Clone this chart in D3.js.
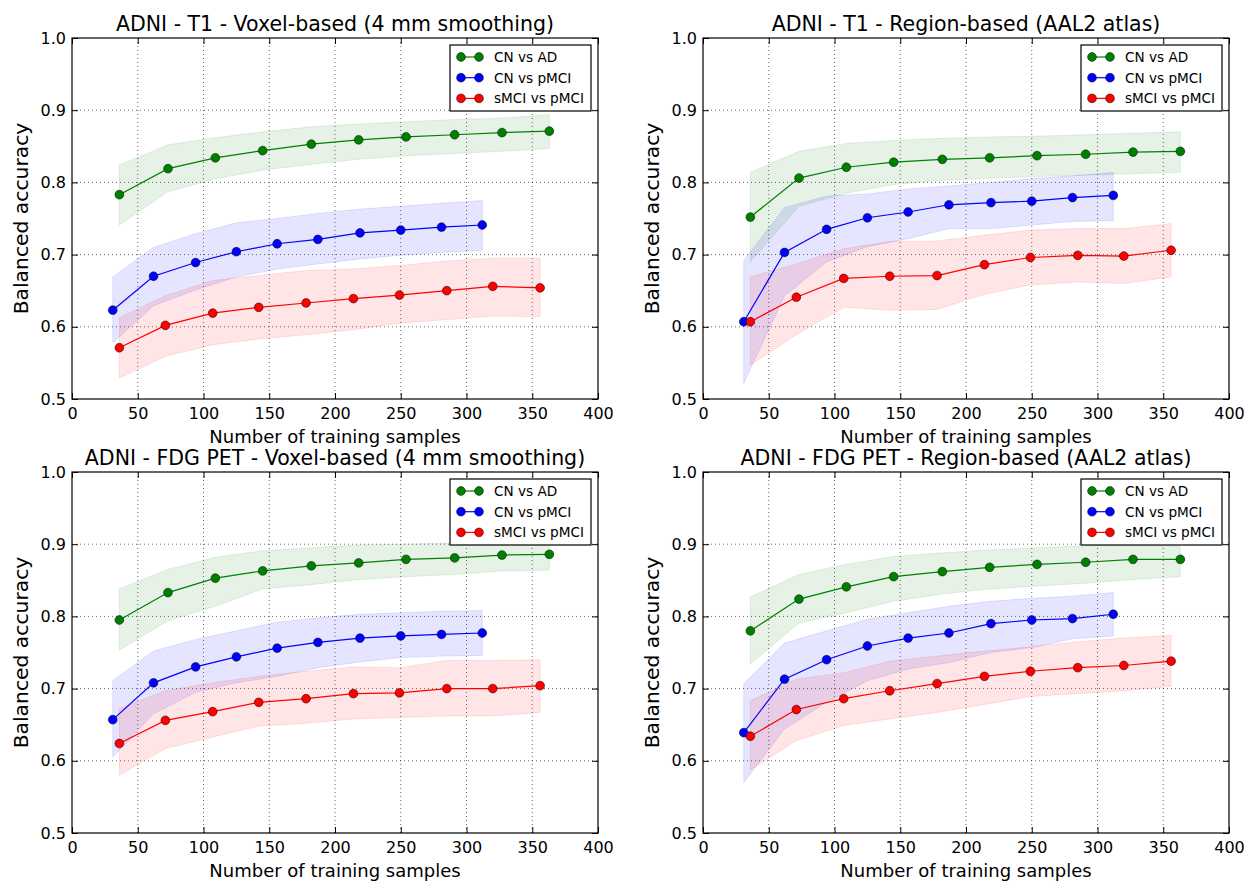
<!DOCTYPE html>
<html><head><meta charset="utf-8">
<script src="https://cdn.jsdelivr.net/npm/d3@7"></script>
<style>
body{margin:0;background:#fff;}
svg{display:block;font-family:"DejaVu Sans",sans-serif;}
</style></head>
<body><svg id="chart" width="1244" height="882"></svg>
<script>
// ---- data ----
const xTicks = [0,50,100,150,200,250,300,350,400];
const yTicks = [0.5,0.6,0.7,0.8,0.9,1.0];
const seriesNames = ["CN vs AD","CN vs pMCI","sMCI vs pMCI"];
const seriesColors = ["#008000","#0000ff","#ff0000"];
const panelTitles = ["ADNI - T1 - Voxel-based (4 mm smoothing)","ADNI - T1 - Region-based (AAL2 atlas)","ADNI - FDG PET - Voxel-based (4 mm smoothing)","ADNI - FDG PET - Region-based (AAL2 atlas)"];

const xCNvsAD   = [36,73,109,145,182,218,254,291,327,363];
const xCNvspMCI = [31,62,94,125,156,187,219,250,281,312];
const xsMCIvspMCI = [36,71,107,142,178,214,249,285,320,356];

// Panel 1: T1 voxel
const t1VoxAD     = [0.783,0.819,0.834,0.844,0.853,0.859,0.863,0.866,0.869,0.871];
const t1VoxADHi   = [0.824,0.852,0.862,0.870,0.877,0.881,0.884,0.887,0.889,0.894];
const t1VoxADLo   = [0.741,0.787,0.805,0.817,0.825,0.832,0.837,0.840,0.843,0.847];
const t1VoxCN     = [0.623,0.670,0.689,0.704,0.715,0.721,0.730,0.734,0.738,0.741];
const t1VoxCNHi   = [0.669,0.710,0.729,0.744,0.750,0.757,0.763,0.767,0.771,0.775];
const t1VoxCNLo   = [0.578,0.629,0.651,0.669,0.680,0.687,0.694,0.699,0.703,0.706];
const t1VoxMCI    = [0.571,0.602,0.619,0.627,0.633,0.639,0.644,0.650,0.656,0.654];
const t1VoxMCIHi  = [0.613,0.643,0.664,0.671,0.678,0.680,0.685,0.691,0.695,0.695];
const t1VoxMCILo  = [0.529,0.559,0.575,0.583,0.589,0.596,0.605,0.610,0.615,0.614];

// Panel 2: T1 region
const t1RegAD     = [0.752,0.806,0.821,0.828,0.832,0.834,0.837,0.839,0.842,0.843];
const t1RegADHi   = [0.814,0.843,0.854,0.858,0.861,0.863,0.864,0.866,0.868,0.870];
const t1RegADLo   = [0.690,0.767,0.785,0.797,0.803,0.806,0.808,0.810,0.812,0.814];
const t1RegCN     = [0.607,0.703,0.735,0.751,0.759,0.769,0.772,0.774,0.779,0.782];
const t1RegCNHi   = [0.692,0.765,0.781,0.784,0.791,0.795,0.800,0.805,0.809,0.814];
const t1RegCNLo   = [0.522,0.643,0.690,0.711,0.722,0.736,0.736,0.741,0.746,0.747];
const t1RegMCI    = [0.607,0.641,0.667,0.670,0.671,0.686,0.696,0.699,0.698,0.706];
const t1RegMCIHi  = [0.669,0.687,0.708,0.718,0.719,0.727,0.734,0.736,0.736,0.743];
const t1RegMCILo  = [0.547,0.589,0.627,0.623,0.624,0.645,0.658,0.662,0.660,0.669];

// Panel 3: FDG PET voxel
const petVoxAD    = [0.795,0.833,0.853,0.863,0.870,0.874,0.879,0.881,0.885,0.886];
const petVoxADHi  = [0.838,0.865,0.882,0.891,0.895,0.899,0.900,0.902,0.904,0.902];
const petVoxADLo  = [0.753,0.794,0.814,0.838,0.844,0.851,0.855,0.858,0.863,0.864];
const petVoxCN    = [0.657,0.708,0.730,0.744,0.756,0.764,0.770,0.773,0.775,0.777];
const petVoxCNHi  = [0.711,0.752,0.768,0.780,0.792,0.798,0.803,0.805,0.807,0.808];
const petVoxCNLo  = [0.605,0.665,0.695,0.708,0.717,0.729,0.737,0.743,0.745,0.746];
const petVoxMCI   = [0.624,0.656,0.668,0.681,0.686,0.693,0.694,0.700,0.700,0.704];
const petVoxMCIHi = [0.672,0.697,0.708,0.717,0.724,0.730,0.729,0.739,0.739,0.740];
const petVoxMCILo = [0.580,0.617,0.633,0.648,0.652,0.658,0.660,0.662,0.662,0.667];

// Panel 4: FDG PET region
const petRegAD    = [0.780,0.824,0.841,0.855,0.862,0.868,0.872,0.875,0.879,0.879];
const petRegADHi  = [0.827,0.858,0.872,0.883,0.888,0.892,0.895,0.898,0.899,0.897];
const petRegADLo  = [0.734,0.791,0.805,0.821,0.831,0.838,0.842,0.846,0.851,0.855];
const petRegCN    = [0.639,0.713,0.740,0.759,0.770,0.777,0.790,0.795,0.797,0.803];
const petRegCNHi  = [0.707,0.763,0.780,0.796,0.805,0.814,0.821,0.825,0.828,0.833];
const petRegCNLo  = [0.570,0.644,0.681,0.711,0.727,0.736,0.750,0.757,0.769,0.773];
const petRegMCI   = [0.634,0.671,0.686,0.697,0.707,0.717,0.724,0.729,0.732,0.738];
const petRegMCIHi = [0.683,0.713,0.722,0.738,0.745,0.752,0.758,0.765,0.770,0.774];
const petRegMCILo = [0.587,0.628,0.649,0.658,0.667,0.678,0.689,0.693,0.697,0.703];

const panelData = [
  [[xCNvsAD,t1VoxAD,t1VoxADLo,t1VoxADHi],[xCNvspMCI,t1VoxCN,t1VoxCNLo,t1VoxCNHi],[xsMCIvspMCI,t1VoxMCI,t1VoxMCILo,t1VoxMCIHi]],
  [[xCNvsAD,t1RegAD,t1RegADLo,t1RegADHi],[xCNvspMCI,t1RegCN,t1RegCNLo,t1RegCNHi],[xsMCIvspMCI,t1RegMCI,t1RegMCILo,t1RegMCIHi]],
  [[xCNvsAD,petVoxAD,petVoxADLo,petVoxADHi],[xCNvspMCI,petVoxCN,petVoxCNLo,petVoxCNHi],[xsMCIvspMCI,petVoxMCI,petVoxMCILo,petVoxMCIHi]],
  [[xCNvsAD,petRegAD,petRegADLo,petRegADHi],[xCNvspMCI,petRegCN,petRegCNLo,petRegCNHi],[xsMCIvspMCI,petRegMCI,petRegMCILo,petRegMCIHi]]
];

// ---- layout ----
const svg = d3.select("#chart");
const boxes = [
  {l:72, r:598, t:38, b:399},
  {l:703, r:1229, t:38, b:399},
  {l:72, r:598, t:472, b:833},
  {l:703, r:1229, t:472, b:833}
];

boxes.forEach((bx, pi) => {
  const x = d3.scaleLinear().domain([0,400]).range([bx.l, bx.r]);
  const y = d3.scaleLinear().domain([0.5,1.0]).range([bx.b, bx.t]);
  const g = svg.append("g");

  // grid
  g.append("g").selectAll("line").data(xTicks.slice(1,-1)).join("line")
    .attr("x1", d=>x(d)).attr("x2", d=>x(d)).attr("y1", bx.t).attr("y2", bx.b)
    .attr("stroke","#000").attr("stroke-width",0.6).attr("stroke-dasharray","1,3");
  g.append("g").selectAll("line").data(yTicks.slice(1,-1)).join("line")
    .attr("y1", d=>y(d)).attr("y2", d=>y(d)).attr("x1", bx.l).attr("x2", bx.r)
    .attr("stroke","#000").attr("stroke-width",0.6).attr("stroke-dasharray","1,3");

  // bands
  panelData[pi].forEach((s, si) => {
    const [xs, m, lo, hi] = s;
    const area = d3.area().x((d,i)=>x(xs[i])).y0((d,i)=>y(lo[i])).y1((d,i)=>y(hi[i]));
    g.append("path").attr("d", area(m))
      .attr("fill", seriesColors[si]).attr("fill-opacity",0.1)
      .attr("stroke", seriesColors[si]).attr("stroke-opacity",0.1).attr("stroke-width",1);
  });
  // lines and markers
  panelData[pi].forEach((s, si) => {
    const [xs, m] = s;
    const line = d3.line().x((d,i)=>x(xs[i])).y(d=>y(d));
    g.append("path").attr("d", line(m)).attr("fill","none")
      .attr("stroke", seriesColors[si]).attr("stroke-width",1.2);
    g.append("g").selectAll("circle").data(m).join("circle")
      .attr("cx",(d,i)=>x(xs[i])).attr("cy",d=>y(d)).attr("r",4.4)
      .attr("fill", seriesColors[si]).attr("stroke","#000").attr("stroke-width",0.5);
  });

  // axes with inward ticks
  const axB = d3.axisBottom(x).tickValues(xTicks).tickSize(-6).tickPadding(8).tickFormat(d3.format("d"));
  const axT = d3.axisTop(x).tickValues(xTicks).tickSize(-6).tickFormat("");
  const axL = d3.axisLeft(y).tickValues(yTicks).tickSize(-6).tickPadding(6).tickFormat(d3.format(".1f"));
  const axR = d3.axisRight(y).tickValues(yTicks).tickSize(-6).tickFormat("");
  const gb = g.append("g").attr("transform",`translate(0,${bx.b})`).call(axB);
  const gt = g.append("g").attr("transform",`translate(0,${bx.t})`).call(axT);
  const gl = g.append("g").attr("transform",`translate(${bx.l},0)`).call(axL);
  const gr = g.append("g").attr("transform",`translate(${bx.r},0)`).call(axR);
  [gb,gt,gl,gr].forEach(a=>{
    a.select(".domain").remove();
    a.selectAll(".tick line").attr("stroke","#000").attr("stroke-width",1);
    a.selectAll("text").attr("font-size",16).attr("fill","#000").attr("font-family","DejaVu Sans");
  });
  gb.selectAll("text").attr("dy","0.72em");
  g.append("rect").attr("x",bx.l).attr("y",bx.t).attr("width",bx.r-bx.l).attr("height",bx.b-bx.t)
    .attr("fill","none").attr("stroke","#000").attr("stroke-width",1.2);

  // title and labels
  const cx = (bx.l+bx.r)/2;
  g.append("text").attr("x",cx).attr("y",bx.t-7.5).attr("text-anchor","middle")
    .attr("font-size",20.5).text(panelTitles[pi]);
  g.append("text").attr("x",cx).attr("y",bx.b+44).attr("text-anchor","middle")
    .attr("font-size",18).text("Number of training samples");
  g.append("text").attr("transform",`translate(${bx.l-44},${(bx.t+bx.b)/2}) rotate(-90)`)
    .attr("text-anchor","middle").attr("font-size",20.3).text("Balanced accuracy");

  // legend
  const lw = 141, lh = 66;
  const lx = bx.r - 7 - lw, ly = bx.t + 7;
  const lg = g.append("g");
  lg.append("rect").attr("x",lx).attr("y",ly).attr("width",lw).attr("height",lh)
    .attr("fill","#fff").attr("stroke","#000").attr("stroke-width",1.2);
  seriesNames.forEach((nm, si) => {
    const yy = ly + 12 + si*20.7;
    lg.append("line").attr("x1",lx+11).attr("x2",lx+29).attr("y1",yy).attr("y2",yy)
      .attr("stroke",seriesColors[si]).attr("stroke-width",1.2);
    [lx+11, lx+29].forEach(px=>{
      lg.append("circle").attr("cx",px).attr("cy",yy).attr("r",4.4)
        .attr("fill",seriesColors[si]).attr("stroke","#000").attr("stroke-width",0.5);
    });
    lg.append("text").attr("x",lx+44).attr("y",yy).attr("dy","0.36em")
      .attr("font-size",13.6).text(nm);
  });
});
</script></body></html>
